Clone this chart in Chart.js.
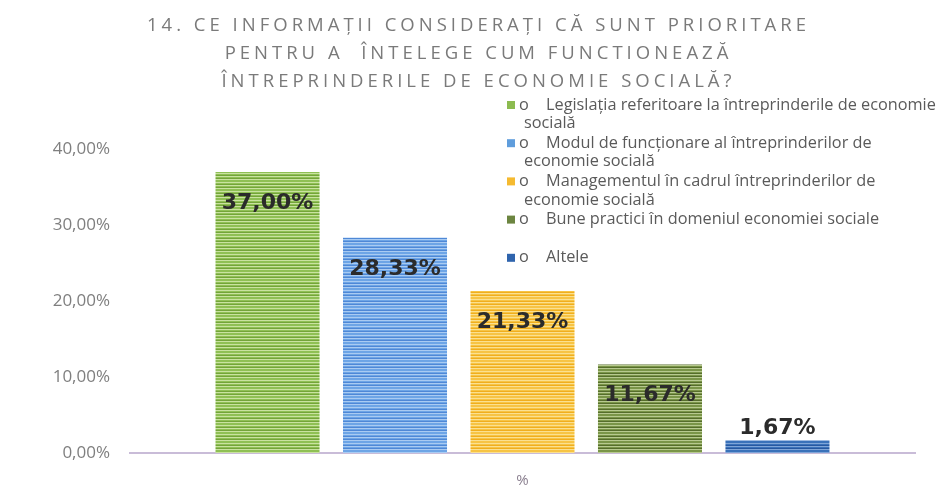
<!DOCTYPE html>
<html>
<head>
<meta charset="utf-8">
<script src="https://cdn.jsdelivr.net/npm/chart.js@4"></script>
<style>
  body { margin: 0; background: #fff; }
  #wrap { width: 937px; height: 503px; }
</style>
</head>
<body>
<div id="wrap"><canvas id="chart"></canvas></div>
<script>
// data
const titleLines = [
  '14. CE INFORMAȚII CONSIDERAȚI CĂ SUNT PRIORITARE',
  'PENTRU A  ÎNTELEGE CUM FUNCTIONEAZĂ',
  'ÎNTREPRINDERILE DE ECONOMIE SOCIALĂ?'
];
const categories = ['%'];
const seriesLines = [
  ['Legislația referitoare la întreprinderile de economie', 'socială'],
  ['Modul de funcționare al întreprinderilor de', 'economie socială'],
  ['Managementul în cadrul întreprinderilor de', 'economie socială'],
  ['Bune practici în domeniul economiei sociale'],
  ['Altele']
];
const values = [37.00, 28.33, 21.33, 11.67, 1.67];
const yTicks = [0, 10, 20, 30, 40];

const solid = ['#8cbb50', '#5f9ddc', '#f5ba30', '#6c8540', '#2f64ad'];
const stripeSets = [
  ['#8fc054', '#c9e2a0', '#74a43a'],
  ['#6da5e6', '#a9cbf2', '#4f88d6'],
  ['#f7c444', '#fbe08f', '#f0ae1e'],
  ['#7a9548', '#b7c98f', '#566d2c'],
  ['#3a72ba', '#7fa5d8', '#2858a0']
];

function stripes(c) {
  const p = document.createElement('canvas');
  p.width = 4; p.height = 9;
  const g = p.getContext('2d');
  const rows = [0, 0, 1, 0, 2, 1, 0, 2, 1];
  rows.forEach((r, i) => { g.fillStyle = c[r]; g.fillRect(0, i, 4, 1); });
  return g.createPattern(p, 'repeat');
}

const fmt = v => v.toFixed(2).replace('.', ',') + '%';

const datasets = values.map((v, i) => ({
  label: seriesLines[i].join(' '),
  data: [v],
  backgroundColor: stripes(stripeSets[i]),
  borderWidth: 0,
  categoryPercentage: 0.812,
  barPercentage: 0.816
}));

// wraps a box's draw so it runs with a given letter spacing
function withSpacing(box, spacing, dx) {
  if (!box || box._spaced) return;
  const orig = box.draw;
  box.draw = function () {
    const ctx = this.ctx;
    ctx.save();
    ctx.letterSpacing = spacing;
    if (dx) ctx.translate(dx, 0);
    orig.apply(this, arguments);
    ctx.restore();
  };
  box._spaced = true;
}

const spacing = {
  id: 'spacing',
  beforeDraw(chart) {
    withSpacing(chart.titleBlock, '4px', 21);
  }
};

const valueLabels = {
  id: 'valueLabels',
  afterDatasetsDraw(chart) {
    const ctx = chart.ctx;
    ctx.save();
    ctx.font = 'bold 22px "DejaVu Sans"';
    ctx.fillStyle = '#2b2b2b';
    ctx.textAlign = 'center';
    ctx.textBaseline = 'middle';
    chart.data.datasets.forEach((ds, i) => {
      const el = chart.getDatasetMeta(i).data[0];
      const h = el.base - el.y;
      const y = h > 50 ? el.y + 31 : el.y - 12;
      ctx.fillText(fmt(ds.data[0]), el.x, y);
    });
    ctx.restore();
  }
};

const sideLegend = {
  id: 'sideLegend',
  afterDraw(chart) {
    const ctx = chart.ctx;
    ctx.save();
    ctx.font = '16.3px "Open Sans"';
    ctx.textBaseline = 'middle';
    chart.data.datasets.forEach((ds, i) => {
      const y = 105 + i * 38.2;
      ctx.fillStyle = solid[i];
      ctx.fillRect(507, y - 4, 8, 8);
      ctx.fillStyle = '#5a5a5a';
      ctx.fillText('o', 519, y);
      seriesLines[i].forEach((line, j) => {
        ctx.fillText(line, j === 0 ? 546 : 524, y + j * 18.5);
      });
    });
    ctx.restore();
  }
};

new Chart(document.getElementById('chart'), {
  type: 'bar',
  data: { labels: categories, datasets: datasets },
  plugins: [spacing, valueLabels, sideLegend],
  options: {
    responsive: true,
    maintainAspectRatio: false,
    animation: false,
    layout: { padding: { left: 0, right: 22, top: 0, bottom: 0 } },
    plugins: {
      legend: { display: false },
      tooltip: { enabled: false },
      title: {
        display: true,
        text: titleLines,
        color: '#7a7a7a',
        font: { family: 'Open Sans', size: 18.5, weight: 'normal', lineHeight: 1.5 },
        padding: { top: 12, bottom: 54 }
      }
    },
    scales: {
      x: {
        afterFit(s) { s.height = 50; },
        grid: { display: false, drawTicks: false },
        border: { display: true, color: '#c9bcd8', width: 2 },
        ticks: { color: '#8a7f8f', font: { family: 'Open Sans', size: 15 }, padding: 19 }
      },
      y: {
        min: 0,
        max: 40,
        afterFit(s) { s.width = 130; },
        afterBuildTicks(s) { s.ticks = yTicks.map(v => ({ value: v })); },
        grid: { display: false, drawTicks: false },
        border: { display: false },
        ticks: {
          color: '#7f7f7f',
          font: { family: 'Open Sans', size: 17 },
          padding: 20,
          callback: v => fmt(v)
        }
      }
    }
  }
});
</script>
</body>
</html>
